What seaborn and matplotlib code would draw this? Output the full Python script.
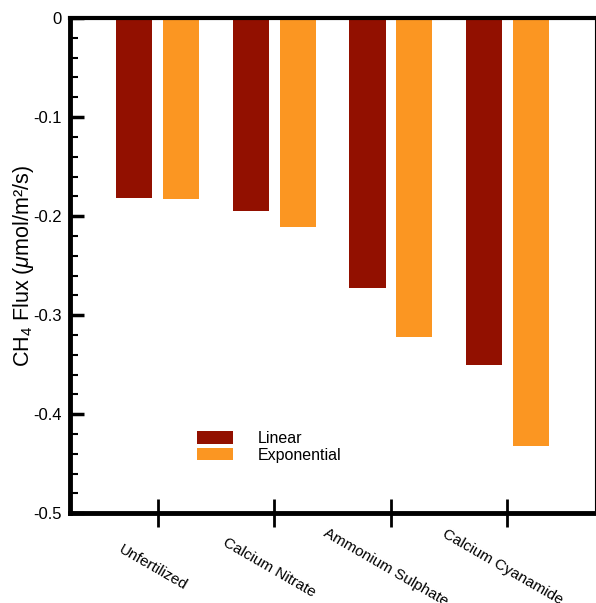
import numpy as np
import pandas as pd
import matplotlib
matplotlib.use("Agg")
import matplotlib.pyplot as plt
import matplotlib.transforms as mtransforms
from matplotlib.ticker import MultipleLocator, FuncFormatter
import seaborn as sns

sns.set_style("white")
plt.rcParams['font.family'] = ['Liberation Sans', 'DejaVu Sans']
plt.rcParams['mathtext.fontset'] = 'custom'
plt.rcParams['mathtext.rm'] = 'Liberation Sans'
plt.rcParams['mathtext.it'] = 'Liberation Sans:italic'
plt.rcParams['text.color'] = 'black'
plt.rcParams['axes.labelcolor'] = 'black'
plt.rcParams['xtick.color'] = 'black'
plt.rcParams['ytick.color'] = 'black'

# data
treatments = ['Unfertilized', 'Calcium Nitrate', 'Ammonium Sulphate', 'Calcium Cyanamide']
linear = [-0.182, -0.195, -0.273, -0.350]
exponential = [-0.183, -0.211, -0.322, -0.432]
models = ['Linear', 'Exponential']
colors = ['#921000', '#FB9622']

df = pd.DataFrame({
    'treatment': treatments * 2,
    'model': [models[0]] * 4 + [models[1]] * 4,
    'flux': linear + exponential,
})

fig, ax = plt.subplots(figsize=(5.96, 6.03), dpi=100)
fig.subplots_adjust(left=0.118, right=0.998, top=0.970, bottom=0.149)

sns.barplot(data=df, x='treatment', y='flux', hue='model', palette=colors,
            width=0.8, gap=0.225, ax=ax, saturation=1, edgecolor='none')

ax.set_xlim(-0.75, 3.75)
ax.set_ylim(-0.5, 0)
ax.yaxis.set_major_locator(MultipleLocator(0.1))
ax.yaxis.set_minor_locator(MultipleLocator(0.02))
ax.yaxis.set_major_formatter(FuncFormatter(lambda v, p: '0' if abs(v) < 1e-9 else '%.1f' % v))

ax.tick_params(axis='y', which='major', direction='in', length=10, width=2.5,
               labelsize=12, pad=6, left=True, colors='black')
ax.tick_params(axis='y', which='minor', direction='in', length=6, width=1.5, left=True)
ax.tick_params(axis='x', which='major', direction='inout', length=20, width=2,
               labelsize=11, pad=29, bottom=True, colors='black')

# labels sit centred a little left of their tick, turned clockwise
shift = mtransforms.ScaledTranslation(-5 / 100, 0, fig.dpi_scale_trans)
for lab in ax.get_xticklabels():
    lab.set_rotation(-30)
    lab.set_ha('center')
    lab.set_va('center')
    lab.set_transform(lab.get_transform() + shift)

for side in ['left', 'bottom']:
    ax.spines[side].set_linewidth(3.5)
ax.spines['top'].set_linewidth(3)
ax.spines['right'].set_linewidth(0.8)
for s in ax.spines.values():
    s.set_color('black')

ax.set_xlabel('')
ax.set_ylabel(r'CH$_4$ Flux ($\mathit{\mu}$mol/m²/s)', fontsize=15.5, labelpad=-2)

leg = ax.legend(loc='upper left', bbox_to_anchor=(0.215, 0.195), frameon=False,
                fontsize=11.5, handlelength=2.25, handleheight=0.8, handletextpad=1.55,
                labelspacing=0.1)

fig.savefig('out.png', dpi=100)
